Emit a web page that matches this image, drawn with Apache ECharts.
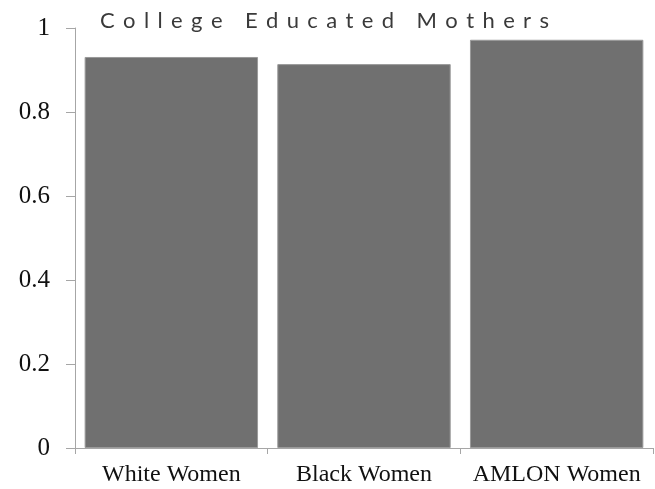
<!DOCTYPE html>
<html>
<head>
<meta charset="utf-8">
<script src="https://cdn.jsdelivr.net/npm/echarts@6/dist/echarts.min.js"></script>
<style>html,body{margin:0;padding:0;background:#fff}#chart{width:655px;height:489px}</style>
</head>
<body>
<div id="chart"></div>
<script>
var categories = ['White Women', 'Black Women', 'AMLON Women'];
var values = [0.931, 0.914, 0.972];
var yTicks = [0, 0.2, 0.4, 0.6, 0.8, 1];
var titleText = 'College Educated Mothers';

var spaced = titleText.split('').map(function(c){ return c === ' ' ? ' ' : c; }).join(' \u2009');

var chart = echarts.init(document.getElementById('chart'));
chart.setOption({
  animation: false,
  title: {
    text: spaced,
    left: 95, top: 5,
    textStyle: { fontFamily: 'Lato', fontWeight: 400, fontSize: 22, color: '#3a3a3a' }
  },
  grid: { left: 75, right: 2, top: 28, bottom: 41 },
  xAxis: {
    type: 'category',
    data: categories,
    axisLine: { lineStyle: { color: '#a6a6a6', width: 1 } },
    axisTick: { show: true, length: 6, lineStyle: { color: '#a6a6a6' } },
    axisLabel: { interval: 0, fontFamily: 'Liberation Serif', fontSize: 24, color: '#111', margin: 15 }
  },
  yAxis: {
    type: 'value',
    min: 0, max: 1, interval: 0.2,
    splitLine: { show: false },
    axisLine: { show: true, lineStyle: { color: '#a6a6a6', width: 1 } },
    axisTick: { show: true, length: 9, lineStyle: { color: '#a6a6a6' } },
    axisLabel: {
      fontFamily: 'Liberation Serif', fontSize: 25, color: '#111', margin: 25,
      formatter: function(v){ return yTicks.indexOf(Math.round(v*10)/10) >= 0 ? String(Math.round(v*10)/10) : ''; }
    }
  },
  series: [{
    type: 'bar',
    data: values,
    barCategoryGap: '10%',
    itemStyle: { color: '#707070', borderColor: '#9a9a9a', borderWidth: 1 }
  }]
});
</script>
</body>
</html>
